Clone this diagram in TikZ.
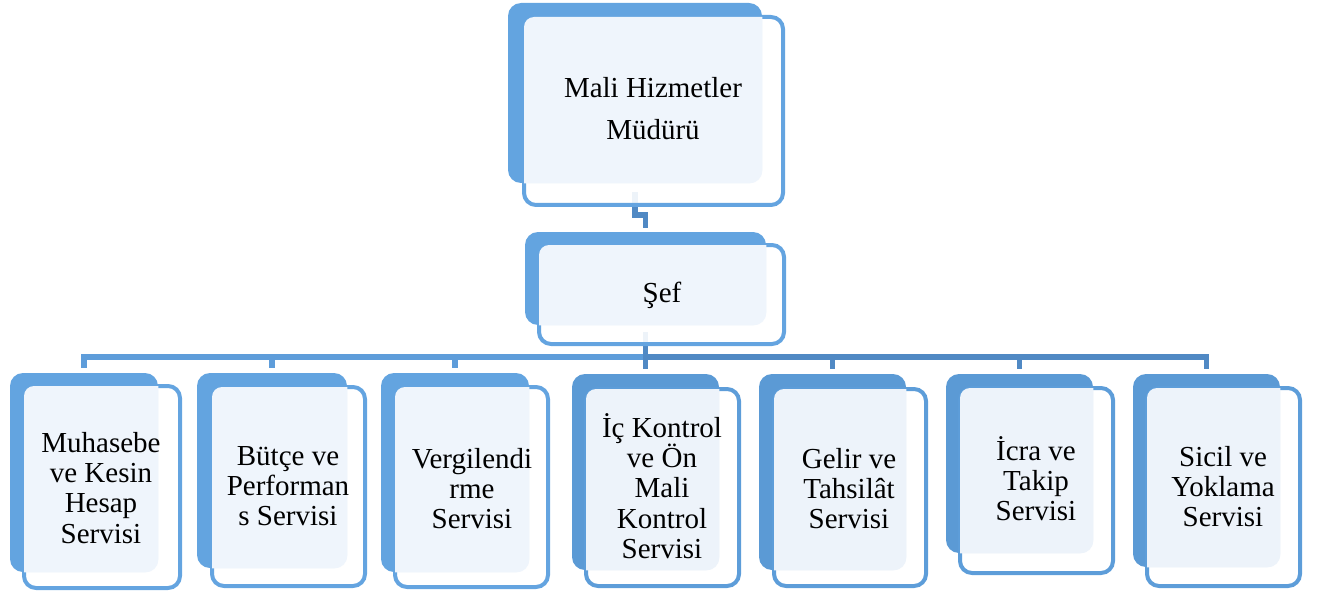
\documentclass[tikz,border=0pt]{standalone}
\usepackage{fontspec}
\setmainfont{Liberation Serif}
\newfontfamily\tnr{Liberation Serif}
\usetikzlibrary{calc,fit}
\definecolor{backA}{HTML}{63A4E0}
\definecolor{backB}{HTML}{5B9AD5}
\definecolor{edgeA}{HTML}{64A4E0}
\definecolor{edgeB}{HTML}{5D9DD9}
\definecolor{lightA}{HTML}{EFF5FC}
\definecolor{lightB}{HTML}{EDF3FA}
\definecolor{connL}{HTML}{5E9DDA}
\definecolor{connR}{HTML}{5089C4}
\tikzset{
  backbox/.style={inner sep=0pt, rounded corners=6.5pt},
  frontbox/.style={inner sep=-1pt, line width=2pt, fill=white, fill opacity=0.9, rounded corners=6pt},
  conn/.style={line width=2.8pt},
  lbl/.style={anchor=base, inner sep=0pt, font=\tnr\fontsize{14.5}{15.2}\selectfont},
}
\newcommand\lines[1]{\begin{tabular}[t]{@{}c@{}}#1\end{tabular}}
\begin{document}
\begin{tikzpicture}[x=0.5pt,y=-0.5pt]
\useasboundingbox (0,0) rectangle (1320,593);
\foreach \n/\bx/\by/\bX/\bY in {
  top/508/3/762/183, sef/525/232/766/325,
  c1/10/373/158/572, c2/197/373/347/568, c3/381/373/529/572,
  c4/572/374/719/570, c5/759/374/906/570, c6/946/374/1093/553,
  c7/1133/374/1280/567}{
  \coordinate (\n-bA) at (\bx,\by);
  \coordinate (\n-bB) at (\bX,\bY);
  \path ($(\n-bA)!0.5!(\n-bB |- \n-bA)$) coordinate (\n-top);
  \path ($(\n-bA |- \n-bB)!0.5!(\n-bB)$) coordinate (\n-bot);
}
% connectors (under everything)
\foreach \c in {c1,c2,c3}{
  \draw[conn, connL] ($(sef-bot)+(0,7)$) -- ($(sef-bot)+(0,32)$) -| ($(\c-top)+(0,-5)$);
}
\foreach \c in {c7,c6,c5,c4}{
  \draw[conn, connR] ($(sef-bot)+(0,7)$) -- ($(sef-bot)+(0,32)$) -| ($(\c-top)+(0,-5)$);
}
\draw[conn, connR] ($(top-bot)+(0,9)$) -- ($(top-bot)+(0,32)$) -| ($(sef-top)+(0,-4)$);
% boxes
\foreach \n/\bx/\by/\bX/\bY/\fx/\fy/\fX/\fY/\dk/\ed/\lt in {
  top/508/3/762/183/522/15/785/207/backA/edgeA/lightA,
  sef/525/232/766/325/537/243/786/346/backA/edgeA/lightA,
  c1/10/373/158/572/22/384/182/590/backA/edgeA/lightA,
  c2/197/373/347/568/210/385/367/588/backA/edgeA/lightA,
  c3/381/373/529/572/393/385/550/589/backA/edgeA/lightA,
  c4/572/374/719/570/584/387/741/588/backB/edgeB/lightB,
  c5/759/374/906/570/772/387/928/588/backB/edgeB/lightB,
  c6/946/374/1093/553/958/386/1115/575/backB/edgeB/lightB,
  c7/1133/374/1280/567/1145/386/1302/588/backB/edgeB/lightB}{
  \node[backbox, fill=\dk, fit={(\bx,\by) (\bX,\bY)}] (\n-b) {};
  \node[frontbox, draw=\ed, fit={(\fx,\fy) (\fX,\fY)}] (\n) {};
  \begin{scope}
    \clip[rounded corners=5pt] ($(\n.south west)+(1pt,1pt)$) rectangle ($(\n.north east)+(-1pt,-1pt)$);
    \fill[\lt, rounded corners=6.5pt] (\n-b.south west) rectangle (\n-b.north east);
  \end{scope}
}
% labels
\node[lbl, font=\tnr\fontsize{14.5}{21}\selectfont] (t-top) at (653,98) {\lines{Mali Hizmetler\\Müdürü}};
\node[lbl] (t-sef) at (662,302) {Şef};
\node[lbl] (t-c1) at (101,452) {\lines{Muhasebe\\ve Kesin\\Hesap\\Servisi}};
\node[lbl] (t-c2) at (288,465) {\lines{Bütçe ve\\Performan\\s Servisi}};
\node[lbl] (t-c3) at (472,468) {\lines{Vergilendi\\rme\\Servisi}};
\node[lbl] (t-c4) at (662,437) {\lines{İç Kontrol\\ve \smash{Ö}n\\Mali\\Kontrol\\Servisi}};
\node[lbl] (t-c5) at (849,468) {\lines{Gelir ve\\Tahsilât\\Servisi}};
\node[lbl] (t-c6) at (1036,460) {\lines{İcra ve\\Takip\\Servisi}};
\node[lbl] (t-c7) at (1223,466) {\lines{Sicil ve\\Yoklama\\Servisi}};
\end{tikzpicture}
\end{document}
